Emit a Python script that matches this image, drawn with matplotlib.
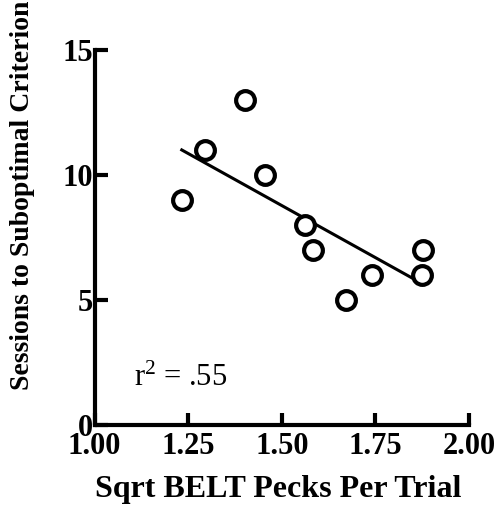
import numpy as np
import matplotlib
matplotlib.use("Agg")
import matplotlib.pyplot as plt

# Square-root BELT pecks per trial and sessions needed to reach criterion
pecks_sqrt = [1.233, 1.295, 1.402, 1.455, 1.562, 1.584, 1.672, 1.741, 1.877, 1.874]
sessions = [9, 11, 13, 10, 8, 7, 5, 6, 7, 6]
x_ticks = [1.00, 1.25, 1.50, 1.75, 2.00]
x_tick_labels = ["1.00", "1.25", "1.50", "1.75", "2.00"]
y_ticks = [0, 5, 10, 15]
y_tick_labels = ["0", "5", "10", "15"]

plt.rcParams["font.family"] = ["Liberation Serif", "DejaVu Serif"]
plt.rcParams["mathtext.fontset"] = "custom"
plt.rcParams["mathtext.rm"] = "Liberation Serif"
plt.rcParams["mathtext.it"] = "Liberation Serif:italic"
plt.rcParams["mathtext.bf"] = "Liberation Serif:bold"

W, H = 501, 512
fig = plt.figure(figsize=(W / 100, H / 100), dpi=100)
ax = fig.add_axes([94.5 / W, 1 - 425 / H, (469 - 94.5) / W, (425 - 50) / H])

x = np.array(pecks_sqrt)
y = np.array(sessions)
slope, intercept = np.polyfit(x, y, 1)
r2 = np.corrcoef(x, y)[0, 1] ** 2
xs = np.array([x.min(), x.max()])
ax.plot(xs, slope * xs + intercept, color="black", lw=2.2, zorder=2)

ax.plot(x, y, linestyle="none", marker="o", markersize=13.5,
        markerfacecolor="white", markeredgecolor="black",
        markeredgewidth=3, zorder=3, clip_on=False)

ax.set_xlim(1.0, 2.0)
ax.set_ylim(0, 15)
for side in ("top", "right"):
    ax.spines[side].set_visible(False)
for side in ("left", "bottom"):
    ax.spines[side].set_linewidth(3)
    ax.spines[side].set_capstyle("projecting")

ax.set_xticks(x_ticks)
ax.set_xticklabels(x_tick_labels)
ax.set_yticks(y_ticks)
ax.set_yticklabels(y_tick_labels)
ax.tick_params(axis="both", direction="in", length=9, width=3,
               labelsize=22)
ax.tick_params(axis="y", pad=1)
ax.tick_params(axis="x", pad=5)
for lab in ax.get_xticklabels() + ax.get_yticklabels():
    lab.set_fontweight("bold")

ax.text(1.105, 1.55, r"r$^{\mathregular{2}}$ = .%02d" % round(r2 * 100),
        fontsize=22, ha="left", va="baseline")

fig.text(278 / W, 1 - 490 / H, "Sqrt BELT Pecks Per Trial", fontsize=23,
         fontweight="bold", ha="center", va="center")
fig.text(23 / W, 1 - 195 / H, "Sessions to Suboptimal Criterion", fontsize=20,
         fontweight="bold", ha="center", va="center", rotation=90)

fig.savefig("out.png", dpi=100)
